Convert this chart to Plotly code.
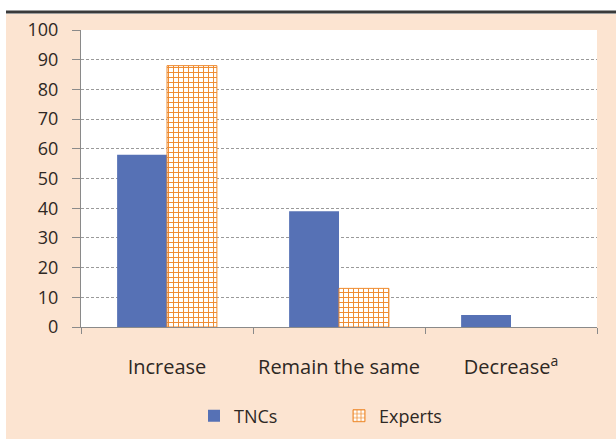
import plotly.graph_objects as go

categories = ["Increase", "Remain the same", "Decrease<sup>a</sup>"]
tncs = [58, 39, 4]
experts = [88, 13, 0]
y_ticks = [0, 10, 20, 30, 40, 50, 60, 70, 80, 90, 100]

BLUE = "#5671B5"
ORANGE = "#EE8A2E"
PEACH = "#FCE4D1"
TXT = "#2e2824"
FONT = "Open Sans"

L, T = 81, 30
PW, PH = 516, 297

def px(x):  # page x -> paper x
    return (x - L) / PW

def py(y):  # page y -> paper y
    return (T + PH - y) / PH

fig = go.Figure()
fig.add_trace(go.Bar(name="TNCs", x=categories, y=tncs,
                     marker=dict(color=BLUE, line=dict(width=0))))
fig.add_trace(go.Bar(name="Experts", x=categories, y=experts,
                     marker=dict(color="white",
                                 line=dict(color=ORANGE, width=[1, 1, 0]),
                                 pattern=dict(shape="+", fgcolor=ORANGE, bgcolor="white",
                                              size=5, solidity=0.35, fillmode="replace"))))

fig.update_layout(
    width=616, height=439,
    margin=dict(l=L, r=616 - L - PW, t=T, b=439 - T - PH, autoexpand=False),
    paper_bgcolor=PEACH, plot_bgcolor="white",
    barmode="group", bargap=0.42, bargroupgap=0,
    font=dict(family=FONT, size=18, color=TXT),
    legend=dict(orientation="h", x=0.5, xanchor="center", y=py(416), yanchor="middle",
                font=dict(size=18, color=TXT), bgcolor="rgba(0,0,0,0)",
                itemwidth=30, entrywidth=100),
    showlegend=True,
)
fig.update_yaxes(range=[0, 100], tickvals=y_ticks, showline=True, linecolor="#8a8a8a",
                 linewidth=1, ticks="outside", ticklen=8, tickcolor="#8a8a8a",
                 showgrid=True, gridcolor="#9a9a9a", griddash="3px,2px", gridwidth=1,
                 zeroline=False, ticklabelstandoff=10, tickfont=dict(size=18))
fig.update_xaxes(showline=True, linecolor="#8a8a8a", linewidth=1, ticks="outside",
                 tickson="boundaries", ticklen=6, tickcolor="#8a8a8a",
                 ticklabelstandoff=22, tickfont=dict(size=20))

# white strips above and at left, dark rule
fig.add_shape(type="rect", xref="paper", yref="paper", x0=-0.3, x1=1.2, y0=py(14), y1=1.3,
              fillcolor="white", line=dict(width=0), layer="above")
fig.add_shape(type="rect", xref="paper", yref="paper", x0=-0.3, x1=px(6), y0=-0.6, y1=1.3,
              fillcolor="white", line=dict(width=0), layer="above")
fig.add_shape(type="line", xref="paper", yref="paper", x0=px(6), x1=1.2,
              y0=py(12), y1=py(12),
              line=dict(color="#3a3a3a", width=3), layer="above")

fig.write_html("out.html", config={"displayModeBar": False},
               post_script="document.body.style.margin='0';")
